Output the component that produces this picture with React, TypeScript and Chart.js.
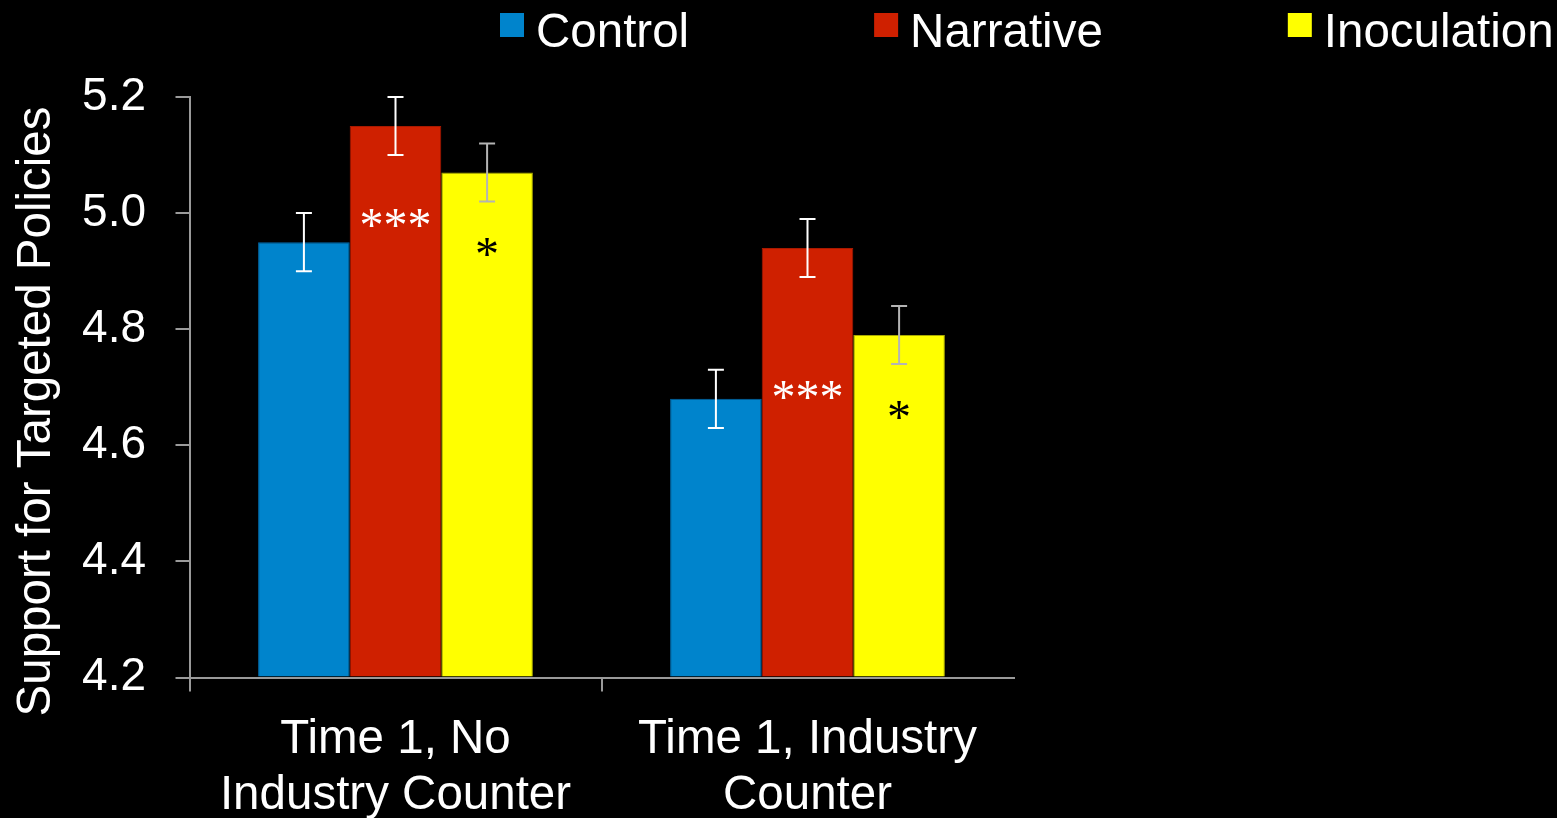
import React, { useEffect, useRef } from "react";
import { Chart, registerables } from "chart.js";

Chart.register(...registerables);

// ---- data ----
const categories = [
  ["Time 1, No", "Industry Counter"],
  ["Time 1, Industry", "Counter"],
];
const seriesNames = ["Control", "Narrative", "Inoculation"];
const controlValues = [4.95, 4.68];
const narrativeValues = [5.15, 4.94];
const inoculationValues = [5.07, 4.79];
const controlErrors = [0.05, 0.05];
const narrativeErrors = [0.05, 0.05];
const inoculationErrors = [0.05, 0.05];
const narrativeStars = ["***", "***"];
const narrativeStarValues = [4.99, 4.694];
const inoculationStars = ["*", "*"];
const inoculationStarValues = [4.94, 4.66];
const yTicks = [4.2, 4.4, 4.6, 4.8, 5.0, 5.2];
const yTitle = "Support for Targeted Policies";

// ---- styles ----
const SANS = "'Liberation Sans', Arial, Helvetica, sans-serif";
const SERIF = "'Liberation Serif', 'Times New Roman', serif";
const axisGray = "#9a9a9a";
const colors = ["#0084cc", "#cf2000", "#ffff00"];
const borderColors = ["#0068a8", "#a81900", "#a8a800"];
const errorColors = ["#ffffff", "#ffffff", "#b4b4b4"];
const starColors = ["#ffffff", "#ffffff", "#000000"];
const FS = 47.5;

const errorBarPlugin = {
  id: "errorBars",
  afterDatasetsDraw(chart: any) {
    const ctx = chart.ctx;
    const y = chart.scales.y;
    chart.data.datasets.forEach((ds: any, i: number) => {
      const meta = chart.getDatasetMeta(i);
      meta.data.forEach((bar: any, j: number) => {
        const v = ds.data[j];
        const e = ds.errors[j];
        const yt = y.getPixelForValue(v + e);
        const yb = y.getPixelForValue(v - e);
        const x = bar.x;
        ctx.save();
        ctx.strokeStyle = ds.errorColor;
        ctx.lineWidth = 2;
        ctx.beginPath();
        ctx.moveTo(x, yt);
        ctx.lineTo(x, yb);
        ctx.moveTo(x - 8, yt);
        ctx.lineTo(x + 8, yt);
        ctx.moveTo(x - 8, yb);
        ctx.lineTo(x + 8, yb);
        ctx.stroke();
        ctx.restore();
      });
    });
  },
};

const starPlugin = {
  id: "stars",
  afterDatasetsDraw(chart: any) {
    const ctx = chart.ctx;
    const y = chart.scales.y;
    const size = 48;
    chart.data.datasets.forEach((ds: any, i: number) => {
      if (!ds.stars) return;
      const meta = chart.getDatasetMeta(i);
      meta.data.forEach((bar: any, j: number) => {
        const py = y.getPixelForValue(ds.starValues[j]);
        ctx.save();
        ctx.fillStyle = ds.starColor;
        ctx.font = `${size}px ${SERIF}`;
        ctx.textAlign = "center";
        ctx.textBaseline = "alphabetic";
        ctx.fillText(ds.stars[j], bar.x, py + size * 0.47);
        ctx.restore();
      });
    });
  },
};

const legendTitlePlugin = {
  id: "legendTitle",
  afterDraw(chart: any) {
    const ctx = chart.ctx;
    ctx.save();
    // legend
    ctx.font = `${FS}px ${SANS}`;
    ctx.textBaseline = "alphabetic";
    ctx.textAlign = "left";
    let x = 500;
    chart.data.datasets.forEach((ds: any) => {
      ctx.fillStyle = ds.backgroundColor;
      ctx.fillRect(x, 13, 24, 24);
      ctx.fillStyle = "#ffffff";
      ctx.fillText(ds.label, x + 36, 46.5);
      x += 36 + ctx.measureText(ds.label).width + 185;
    });
    // y title
    ctx.translate(49.5, 411.5);
    ctx.rotate(-Math.PI / 2);
    ctx.textAlign = "center";
    ctx.fillStyle = "#ffffff";
    ctx.fillText(yTitle, 0, 0);
    ctx.restore();
  },
};

export default function App() {
  const ref = useRef<HTMLCanvasElement | null>(null);

  useEffect(() => {
    if (!ref.current) return;
    const valueSets = [controlValues, narrativeValues, inoculationValues];
    const errorSets = [controlErrors, narrativeErrors, inoculationErrors];
    const starSets: any[] = [null, narrativeStars, inoculationStars];
    const starValueSets: any[] = [null, narrativeStarValues, inoculationStarValues];
    const chart = new Chart(ref.current, {
      type: "bar",
      data: {
        labels: categories as any,
        datasets: seriesNames.map((name, i) => ({
          label: name,
          data: valueSets[i],
          backgroundColor: colors[i],
          borderColor: borderColors[i],
          borderWidth: 1,
          base: 4.2,
          categoryPercentage: 0.667,
          barPercentage: 1.0,
          errors: errorSets[i],
          errorColor: errorColors[i],
          stars: starSets[i],
          starValues: starValueSets[i],
          starColor: starColors[i],
        })) as any,
      },
      options: {
        responsive: false,
        animation: false,
        devicePixelRatio: 1,
        layout: { padding: { top: 97, right: 543.5, bottom: 0, left: 0 } },
        plugins: {
          legend: { display: false },
          tooltip: { enabled: false },
        },
        scales: {
          x: {
            type: "category",
            offset: true,
            grid: {
              offset: true,
              drawOnChartArea: false,
              drawTicks: true,
              tickLength: 14,
              lineWidth: 2,
              color: (c: any) => (c.type === "tick" ? axisGray : "rgba(0,0,0,0)"),
            },
            border: { display: true, color: axisGray, width: 2 },
            ticks: {
              color: "#ffffff",
              font: { family: SANS, size: FS, lineHeight: 1.18 },
              padding: 20,
              maxRotation: 0,
              autoSkip: false,
            },
            afterFit: (s: any) => {
              s.height = 140.5;
            },
          },
          y: {
            min: 4.2,
            max: 5.2,
            afterBuildTicks: (s: any) => {
              s.ticks = yTicks.map((v) => ({ value: v }));
            },
            grid: {
              drawOnChartArea: false,
              drawTicks: true,
              tickLength: 14,
              lineWidth: 2,
              color: axisGray,
            },
            border: { display: true, color: axisGray, width: 2 },
            ticks: {
              color: "#ffffff",
              font: { family: SANS, size: 46 },
              padding: 29.5,
              callback: (v: any) => Number(v).toFixed(1),
            },
            afterFit: (s: any) => {
              s.width = 189.5;
            },
          },
        },
      },
      plugins: [errorBarPlugin, starPlugin, legendTitlePlugin],
    });
    return () => chart.destroy();
  }, []);

  return (
    <div
      style={{
        position: "fixed",
        left: 0,
        top: 0,
        width: 1557,
        height: 818,
        background: "#000000",
        overflow: "hidden",
      }}
    >
      <canvas ref={ref} width={1557} height={818} style={{ display: "block" }} />
    </div>
  );
}
